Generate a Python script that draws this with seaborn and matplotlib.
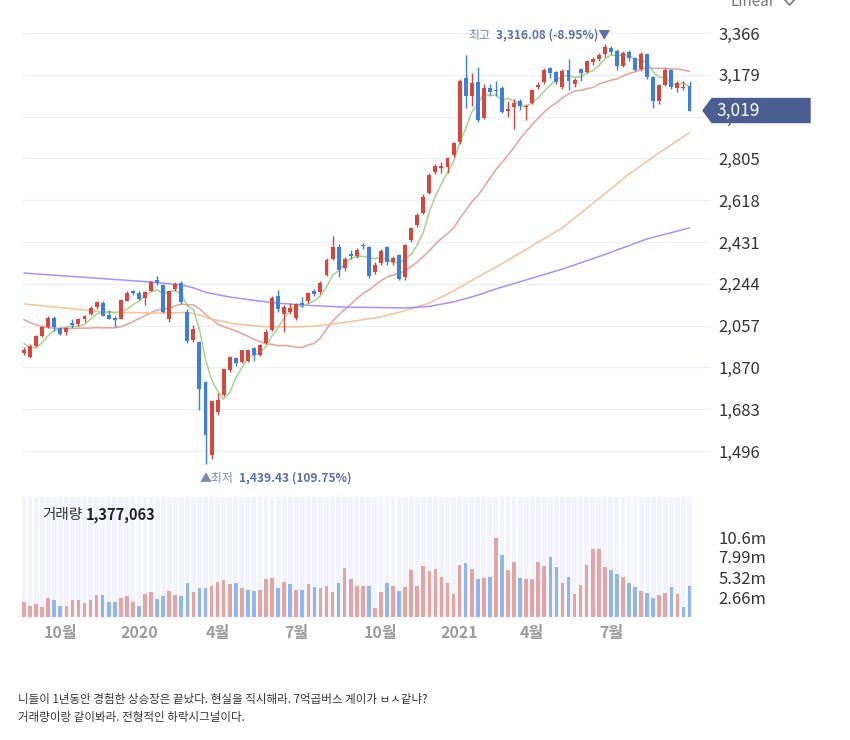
import numpy as np
import pandas as pd
import matplotlib
matplotlib.use("Agg")
import matplotlib.pyplot as plt
from matplotlib.patches import Polygon
from matplotlib.lines import Line2D
import seaborn as sns

# ---- 주봉 데이터 (2019-08 ~ 2021-10) ----
opens = [1935, 1918, 1965, 2012, 2050, 2092, 2046, 2028, 2068, 2062,
         2088, 2110, 2140, 2160, 2105, 2093, 2088, 2168, 2210, 2205,
         2180, 2213, 2262, 2240, 2087, 2220, 2246, 2120, 1993, 1984,
         1805, 1478, 1670, 1748, 1858, 1910, 1894, 1900, 1957, 1925,
         1979, 2037, 2190, 2110, 2120, 2091, 2158, 2167, 2210, 2207,
         2283, 2355, 2408, 2314, 2377, 2370, 2418, 2409, 2297, 2337,
         2409, 2341, 2373, 2274, 2440, 2507, 2561, 2650, 2744, 2762,
         2766, 2820, 2878, 3165, 3084, 3147, 2986, 3120, 3111, 3120,
         3017, 3035, 3062, 3035, 3053, 3124, 3147, 3209, 3191, 3125,
         3200, 3140, 3205, 3190, 3235, 3250, 3270, 3300, 3285, 3220,
         3280, 3255, 3205, 3270, 3170, 3060, 3135, 3200, 3120, 3118,
         3130]
highs = [1960, 1975, 2015, 2055, 2101, 2098, 2050, 2050, 2085, 2090,
         2105, 2145, 2165, 2165, 2125, 2098, 2175, 2210, 2215, 2212,
         2210, 2255, 2278, 2245, 2215, 2250, 2255, 2130, 2060, 1990,
         1810, 1720, 1755, 1865, 1922, 1917, 1950, 1950, 1960, 1975,
         2040, 2190, 2217, 2150, 2160, 2160, 2183, 2208, 2220, 2255,
         2360, 2458, 2420, 2365, 2395, 2405, 2428, 2412, 2340, 2400,
         2415, 2367, 2378, 2420, 2500, 2560, 2645, 2740, 2782, 2790,
         2812, 2878, 3161, 3266, 3187, 3214, 3140, 3140, 3150, 3130,
         3060, 3070, 3070, 3050, 3115, 3145, 3209, 3214, 3195, 3203,
         3249, 3165, 3210, 3245, 3258, 3275, 3316.08, 3310, 3295, 3285,
         3290, 3260, 3280, 3275, 3175, 3140, 3210, 3205, 3150, 3150,
         3150]
lows = [1925, 1910, 1960, 2005, 2045, 2035, 2015, 2015, 2048, 2055,
        2075, 2105, 2130, 2100, 2085, 2052, 2085, 2165, 2195, 2170,
        2150, 2210, 2240, 2115, 2075, 2210, 2155, 1980, 1985, 1680,
        1439.43, 1458, 1657, 1742, 1850, 1875, 1890, 1895, 1900, 1920,
        1975, 2035, 2120, 2030, 2110, 2080, 2140, 2160, 2190, 2200,
        2278, 2350, 2274, 2300, 2355, 2360, 2400, 2270, 2290, 2330,
        2330, 2330, 2260, 2260, 2430, 2500, 2555, 2645, 2735, 2740,
        2740, 2810, 2869, 3030, 3040, 2970, 2980, 3090, 3085, 3010,
        2990, 2936, 3020, 2977, 3050, 3115, 3140, 3165, 3140, 3115,
        3109, 3125, 3150, 3185, 3225, 3240, 3260, 3270, 3200, 3215,
        3240, 3195, 3195, 3160, 3030, 3050, 3130, 3115, 3100, 3110,
        3015]
closes = [1948.30, 1967.79, 2009.13, 2049.20, 2091.52, 2049.93, 2020.69, 2044.61, 2060.69, 2085.73,
          2100.20, 2137.22, 2162.18, 2101.96, 2087.96, 2081.85, 2170.25, 2204.18, 2204.21, 2176.46,
          2206.39, 2250.57, 2246.13, 2119.01, 2211.95, 2243.59, 2162.84, 1987.01, 2040.22, 1771.44,
          1566.15, 1717.73, 1725.44, 1860.70, 1914.53, 1889.01, 1947.56, 1945.82, 1927.28, 1970.13,
          2029.60, 2181.87, 2132.30, 2141.32, 2134.65, 2152.41, 2150.25, 2201.19, 2200.44, 2249.37,
          2351.67, 2407.49, 2304.59, 2353.80, 2368.25, 2396.48, 2412.40, 2278.79, 2327.89, 2391.96,
          2341.53, 2360.81, 2267.15, 2416.50, 2493.87, 2553.50, 2633.45, 2731.45, 2770.06, 2772.18,
          2806.86, 2873.47, 3152.18, 3085.90, 3140.63, 2976.21, 3120.63, 3100.58, 3107.62, 3012.95,
          3026.26, 3054.39, 3039.53, 3041.01, 3112.80, 3131.88, 3198.62, 3186.10, 3147.86, 3197.20,
          3153.32, 3156.42, 3188.73, 3240.08, 3249.32, 3267.93, 3302.84, 3281.78, 3217.95, 3276.91,
          3254.42, 3202.32, 3270.36, 3171.29, 3060.51, 3133.90, 3201.06, 3125.76, 3140.51, 3125.24,
          3019.18]
prev_close = 1927.17  # 첫 주 직전 종가 (거래량 색 기준)

# 거래량 (백만)
volume_m = [2.04, 1.51, 1.69, 1.33, 2.57, 2.22, 1.51, 1.51, 2.22, 2.22,
            1.86, 2.22, 2.93, 2.93, 2.04, 2.04, 2.57, 2.75, 2.04, 1.51,
            3.10, 3.28, 2.39, 2.75, 3.46, 2.93, 2.75, 4.52, 3.28, 3.81,
            3.81, 4.17, 4.70, 4.88, 4.35, 4.52, 3.81, 3.63, 3.46, 3.63,
            5.05, 5.23, 3.81, 4.70, 4.35, 3.63, 3.63, 4.35, 3.99, 3.81,
            4.17, 3.28, 4.52, 6.47, 5.05, 4.17, 4.17, 4.17, 1.15, 3.28,
            4.52, 4.17, 3.46, 3.99, 6.29, 4.17, 6.78, 6.07, 6.43, 5.36,
            4.48, 3.06, 6.96, 7.14, 6.43, 5.01, 5.19, 5.36, 10.47, 8.20,
            6.25, 7.32, 5.19, 5.01, 5.01, 7.32, 6.78, 8.02, 6.61, 4.48,
            5.36, 3.06, 4.30, 6.96, 9.08, 9.08, 6.61, 6.25, 5.72, 5.36,
            4.48, 3.95, 3.42, 3.24, 2.53, 2.88, 3.24, 3.95, 3.06, 1.29,
            4.12]

# 이동평균선
ma5 = [1977, 1957, 1959, 1980, 2013, 2034, 2044, 2051, 2054, 2053,
       2063, 2086, 2109, 2117, 2118, 2114, 2121, 2129, 2150, 2167,
       2192, 2208, 2217, 2200, 2207, 2214, 2197, 2145, 2129, 2041,
       1905, 1816, 1764, 1728, 1757, 1822, 1868, 1912, 1925, 1936,
       1964, 2011, 2048, 2091, 2124, 2148, 2142, 2156, 2168, 2190,
       2230, 2282, 2303, 2333, 2357, 2366, 2367, 2362, 2357, 2361,
       2351, 2340, 2338, 2356, 2376, 2419, 2473, 2566, 2636, 2692,
       2743, 2791, 2875, 2938, 3012, 3046, 3095, 3085, 3089, 3064,
       3074, 3060, 3048, 3035, 3055, 3076, 3105, 3134, 3156, 3172,
       3177, 3168, 3169, 3187, 3197, 3220, 3250, 3268, 3264, 3270,
       3267, 3247, 3244, 3235, 3192, 3168, 3167, 3139, 3133, 3145,
       3122]
ma20 = [2084, 2070, 2060, 2054, 2048, 2046, 2044, 2044, 2045, 2045,
        2046, 2046, 2048, 2047, 2047, 2047, 2052, 2062, 2075, 2088,
        2101, 2115, 2127, 2130, 2136, 2146, 2153, 2150, 2149, 2133,
        2107, 2086, 2064, 2052, 2043, 2033, 2022, 2009, 1996, 1985,
        1976, 1973, 1967, 1968, 1965, 1960, 1959, 1970, 1978, 2002,
        2041, 2076, 2105, 2129, 2152, 2177, 2200, 2217, 2237, 2258,
        2274, 2283, 2290, 2303, 2321, 2341, 2366, 2392, 2421, 2447,
        2469, 2493, 2535, 2572, 2610, 2639, 2675, 2716, 2755, 2786,
        2820, 2855, 2893, 2925, 2956, 2985, 3013, 3036, 3054, 3076,
        3093, 3107, 3109, 3117, 3122, 3137, 3146, 3155, 3160, 3174,
        3185, 3192, 3204, 3210, 3208, 3208, 3208, 3205, 3205, 3201,
        3194]
ma60_week = [0, 13, 22, 27, 29, 31, 35, 40, 45, 48, 51, 55, 59, 63, 67, 71, 75, 79, 82,
             89, 95, 100, 105, 110]
ma60 = [2154, 2118, 2113, 2116, 2104, 2086, 2064, 2052, 2051, 2055, 2064, 2079, 2096, 2124,
        2158, 2212, 2274, 2334, 2382, 2495, 2625, 2735, 2830, 2920]
ma120_week = [0, 21, 26, 28, 30, 34, 38, 42, 48, 53, 63, 67, 71, 75, 78, 89, 96, 103, 110]
ma120 = [2292, 2252, 2239, 2226, 2206, 2185, 2170, 2157, 2146, 2140, 2136, 2143, 2163, 2193,
         2221, 2310, 2375, 2445, 2494]

price_ticks = [1496, 1683, 1870, 2057, 2244, 2431, 2618, 2805, 2992, 3179, 3366]
vol_ticks = [2.66, 5.32, 7.99, 10.64]
vol_tick_labels = ["2.66m", "5.32m", "7.99m", "10.6m"]
month_week = [6, 19, 32, 45, 59, 72, 84, 97]
month_labels = ["10월", "2020", "4월", "7월", "10월", "2021", "4월", "7월"]
vol_caption = "1,377,063"
caption = ["니들이 1년동안 경험한 상승장은 끝났다. 현실을 직시해라. 7억곱버스 게이가 ㅂㅅ같냐?",
           "거래량이랑 같이봐라. 전형적인 하락시그널이다."]

df = pd.DataFrame({"open": opens, "high": highs, "low": lows,
                   "close": closes, "vol": volume_m})
df["week"] = np.arange(len(df))
df["up"] = df["close"] >= df["open"]
df["vol_up"] = df["close"] >= df["close"].shift(1).fillna(prev_close)

RED, BLUE = "#d4463e", "#3d7fe0"
VRED, VBLUE = "#e6a3a3", "#91b6ef"
SLATE = "#5b6ea6"

sns.set_theme(style="white")
plt.rcParams["font.family"] = ["Noto Sans CJK KR", "DejaVu Sans"]

W, H = 850, 740
fig = plt.figure(figsize=(W / 100, H / 100), dpi=100)
ax = fig.add_axes([22 / W, 1 - 490 / H, 688 / W, 490 / H])
axv = fig.add_axes([22 / W, 1 - 617 / H, 688 / W, 120 / H])

# 축 범위
ppx = 187 / 41.8
ax.set_ylim(3366 - (490 - 33) * ppx, 3366 + 33 * ppx)
xlim = (-2 / 6.05, 686 / 6.05)
ax.set_xlim(*xlim)
axv.set_xlim(*xlim)

# 이동평균선
sns.lineplot(x=df["week"], y=ma20, ax=ax, color="#e6a199", linewidth=1.1, zorder=2)
sns.lineplot(x=ma60_week, y=ma60, ax=ax, color="#f5c197", linewidth=1.1, zorder=2)
sns.lineplot(x=ma120_week, y=ma120, ax=ax, color="#a891f2", linewidth=1.1, zorder=2)
sns.lineplot(x=df["week"], y=ma5, ax=ax, color="#a9d18e", linewidth=1.1, zorder=2)

# 캔들
ccol = np.where(df["up"], RED, BLUE)
ax.vlines(df["week"], df["low"], df["high"], colors=ccol, linewidth=1.0, zorder=3)
body_lo = df[["open", "close"]].min(axis=1)
body_h = (df["close"] - df["open"]).abs().clip(lower=4)
ax.bar(df["week"], body_h, bottom=body_lo, width=0.66, color=ccol, zorder=4, linewidth=0)

ax.set_yticks(price_ticks)
ax.set_yticklabels([f"{v:,}" for v in price_ticks])
ax.yaxis.tick_right()
ax.tick_params(axis="y", length=0, pad=6, labelsize=12, labelcolor="#333333")
ax.set_xticks([])
ax.grid(axis="y", color="#eef0f7", linewidth=1)
ax.set_axisbelow(True)
ax.set_ylabel("")
ax.set_xlabel("")

# 거래량
vmax = (617 - 497) * 2.66 / 20
axv.set_ylim(0, vmax)
axv.bar(df["week"], vmax, width=0.8, color="#f2f3fb", zorder=1, linewidth=0)
axv.bar(df["week"], df["vol"], width=0.6, color=np.where(df["vol_up"], VRED, VBLUE),
        zorder=2, linewidth=0)
axv.set_yticks(vol_ticks)
axv.set_yticklabels(vol_tick_labels)
axv.yaxis.tick_right()
axv.tick_params(axis="y", length=0, pad=6, labelsize=12, labelcolor="#333333")
axv.set_xticks(month_week)
axv.set_xticklabels(month_labels)
axv.tick_params(axis="x", length=0, pad=6, labelsize=11.5, labelcolor="#9b9b9b")
for t in axv.get_xticklabels():
    t.set_fontweight("bold")
for t in ax.get_yticklabels() + axv.get_yticklabels():
    t.set_fontweight("medium")

for a in (ax, axv):
    for s in a.spines.values():
        s.set_visible(False)

# 최고 / 최저 표시
hi_i = int(np.argmax(df["high"]))
lo_i = int(np.argmin(df["low"]))
last = df["close"].iloc[-1]
hi_v, lo_v = df["high"].iloc[hi_i], df["low"].iloc[lo_i]
t_hi = ax.annotate(f"{hi_v:,.2f} ({(last / hi_v - 1) * 100:.2f}%)▼", xy=(hi_i, hi_v),
                   xytext=(4, 6.5), textcoords="offset points", ha="right", va="center",
                   fontsize=8.6, fontweight="bold", color=SLATE, zorder=6)
t_lo = ax.annotate("▲최저", xy=(lo_i, lo_v), xytext=(-4, -10.5), textcoords="offset points",
                   ha="left", va="center", fontsize=8.6, color="#7a88b0", zorder=6)

fig.canvas.draw()
r = fig.canvas.get_renderer()
bb = t_hi.get_window_extent(r)
fig.text((bb.x0 - 6) / W, (bb.y0 + bb.y1) / 2 / H, "최고", ha="right", va="center",
         fontsize=8.6, color="#7a88b0")
bb = t_lo.get_window_extent(r)
fig.text((bb.x1 + 5) / W, (bb.y0 + bb.y1) / 2 / H,
         f"{lo_v:,.2f} ({(last / lo_v - 1) * 100:.2f}%)", ha="left", va="center",
         fontsize=8.6, fontweight="bold", color=SLATE)

# 현재가 태그
yl = ax.transData.transform((0, last))[1]
tag = [(703, yl), (712, yl + 12), (810, yl + 12), (810, yl - 12), (712, yl - 12)]
fig.add_artist(Polygon([(x / W, y / H) for x, y in tag], closed=True,
                       transform=fig.transFigure, facecolor="#4b5e92",
                       edgecolor="#4b5e92", joinstyle="round", zorder=10))
fig.text(716 / W, yl / H, f"{last:,.0f}", ha="left", va="center", fontsize=12.5,
         fontweight="medium", color="white", zorder=11)

# 상단 Linear
fig.text(731 / W, 1 - 1 / H, "Linear", ha="left", va="center", fontsize=11, color="#777777")
fig.add_artist(Line2D([784 / W, 789.5 / W, 795 / W], [1 + 1 / H, 1 - 5 / H, 1 + 1 / H],
                      transform=fig.transFigure, color="#777777", linewidth=1.2))

# 거래량 라벨
t_v = fig.text(42 / W, 1 - 515 / H, "거래량", ha="left", va="center", fontsize=10.5, color="#333333")
bb = t_v.get_window_extent(r)
fig.text((bb.x1 + 4) / W, 1 - 515 / H, vol_caption, ha="left", va="center",
         fontsize=10.5, fontweight="bold", color="#222222")

# 본문
fig.text(18 / W, 1 - 700 / H, caption[0], ha="left", va="center", fontsize=8.3, color="#333333")
fig.text(18 / W, 1 - 718 / H, caption[1], ha="left", va="center", fontsize=8.3, color="#333333")

fig.savefig("out.png", dpi=100)
